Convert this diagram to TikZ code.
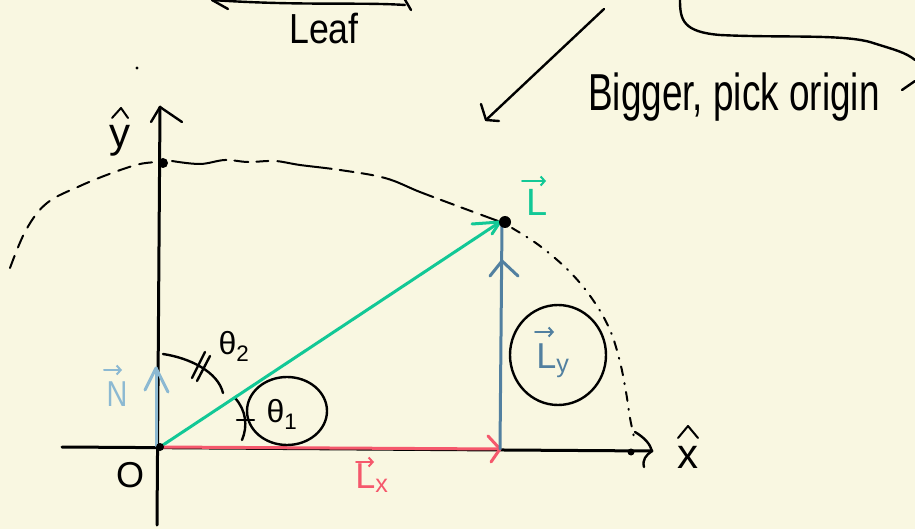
\documentclass[tikz,border=0pt]{standalone}
\usepackage{fontspec}
\setmainfont{Liberation Sans}
\usetikzlibrary{arrows.meta}
\definecolor{bg}{RGB}{249,247,225}
\definecolor{lgreen}{RGB}{18,200,150}
\definecolor{lred}{RGB}{245,88,108}
\definecolor{lblue}{RGB}{82,128,160}
\definecolor{nblue}{RGB}{140,185,210}
\tikzset{
  ink/.style={line width=2.4pt, line cap=round, line join=round},
  thinink/.style={line width=2pt, line cap=round, line join=round},
  axisline/.style={line width=3pt, line cap=round},
  vecline/.style={line width=3pt, line cap=round},
  vecmark/.style={line width=2pt, line cap=round, -{Straight Barb[length=4pt,width=9pt,line width=2pt]}},
  dashpart/.style={line width=2pt, line cap=round, dash pattern=on 13pt off 9pt},
  dotpart/.style={line width=2pt, line cap=round, dash pattern=on 9pt off 8pt on 1pt off 8pt},
  lbl/.style={inner sep=0pt, font=\fontsize{36}{38}\selectfont},
  biglbl/.style={inner sep=0pt, font=\fontsize{42}{44}\selectfont},
  dotmark/.style={circle, fill=black, inner sep=0pt, minimum size=10pt},
}
\begin{document}
\begin{tikzpicture}[x=1pt,y=-1pt]
\useasboundingbox (0,0) rectangle (915,529);
\fill[bg] (0,0) rectangle (915,529);

% key points
\coordinate (O) at (160,447);
\coordinate (Xend) at (652,451);
\coordinate (Xstart) at (62,447);
\coordinate (Ybot) at (157,525);
\coordinate (Ytop) at (160,107);
\coordinate (Ltip) at (500,222);
\coordinate (Lxend) at (500,449);
\coordinate (Nstart) at (156,446);
\coordinate (Ntip) at (156,368);

% top cut-off sketches
\draw[ink] (212,0) .. controls (300,6) and (360,2) .. (405,5);
\draw[ink] (212,0) -- (228,9);
\draw[ink] (404,-2) -- (411,10);
\draw[ink] (680,0) .. controls (680,20) and (683,32) .. (720,35)
  .. controls (780,38) and (840,34) .. (870,42)
  .. controls (895,50) and (905,52) .. (915,60);
\draw[ink] (915,81) -- (902,90);

% arrow to "Bigger, pick origin"
\coordinate (Bfrom) at (604,9);
\coordinate (Bto) at (486,120);
\draw[ink] (Bfrom) -- (Bto);
\draw[ink] (481,104) -- (Bto) -- (499,121);

% texts
\node[biglbl] (leaf) at (324,29) {\scalebox{0.85}[1]{Leaf}};
\node[inner sep=0pt, font=\fontsize{52}{54}\selectfont] (bigger) at (734,97) {\scalebox{0.71}[1]{Bigger, pick origin}};
\coordinate (speck) at (137,68);
\fill (speck) circle (1.6pt);

% dashed path of the tip
\draw[dashpart] plot[smooth, tension=0.6] coordinates {(10,268) (26,230) (47,203) (80,186) (112,173) (140,164) (160,162)};
\draw[line width=2pt, line cap=round, dash pattern=on 55pt off 8pt on 14pt off 8pt on 12pt off 9pt]
  plot[smooth, tension=0.6] coordinates {(172,161) (200,164) (225,160) (248,162) (275,161) (300,165) (340,170) (385,178) (420,192) (460,207) (498,221)};
\draw[dotpart] plot[smooth, tension=0.6] coordinates {(512,228) (540,246) (570,272) (593,300) (610,330) (620,362) (626,392) (630,418) (634,437)};

% axes
\draw[axisline] (Xstart) -- (Xend);
\draw[ink] (635,432) .. controls (645,438) and (650,444) .. (Xend) .. controls (646,455) and (642,460) .. (644,467);
\draw[axisline] (Ybot) -- (Ytop);
\draw[ink] (151,122) -- (Ytop) -- (182,122);
\node[dotmark, minimum size=7pt] (xdot) at (631,452) {};

% angle arcs
\draw[ink] (163,354) .. controls (190,358) and (218,372) .. (223,393);
\draw[ink] (192,378) -- (205,352);
\draw[ink] (197,381) -- (210,356);
\draw[ink] (235,398) .. controls (246,410) and (248,426) .. (242,440);
\draw[ink] (237,420) -- (254,420);

% vectors
\draw[vecline, nblue] (Nstart) -- (Ntip);
\draw[ink, nblue, line width=3pt] (145,390) -- (Ntip) -- (168,392);
\draw[vecline, lgreen] (O) -- (Ltip);
\draw[ink, lgreen, line width=3pt] (472,224) -- (Ltip) -- (492,234);
\draw[vecline, lred] (O) -- (Lxend);
\draw[ink, lred, line width=3pt] (488,436) -- (Lxend) -- (491,462);
\draw[vecline, lblue] (Lxend) -- (502,222);
\draw[ink, lblue, line width=3pt] (490,276) -- (502,261) -- (518,276);

% dots
\node[dotmark] (ydot) at (163,163) {};
\node[dotmark, minimum size=12pt] (Ldot) at (505,222) {};
\node[dotmark, minimum size=8pt] (Odot) at (O) {};

% blobs
\draw[ink] (287,411) ellipse [x radius=40pt, y radius=34pt];
\draw[ink] (558,355) ellipse [x radius=48pt, y radius=50pt];

% labels
\node[lbl] (Olbl) at (130,475) {O};
\node[biglbl, anchor=base] (xhat) at (688,468) {x};
\draw[thinink] (678,438) -- (688,426) -- (698,438);
\node[biglbl, anchor=base] (yhat) at (120,148) {y};
\draw[thinink] (112,118) -- (121,108) -- (128,118);
\node[lbl, text=lgreen, font=\fontsize{38}{40}\selectfont, anchor=base] (Llbl) at (537,216) {L};
\draw[vecmark, lgreen] (522,181) -- (546,181);
\node[lbl, text=lred, anchor=base] (Lxlbl) at (372,488) {L\textsubscript{x}};
\draw[vecmark, lred] (356,462) -- (374,462);
\node[lbl, text=lblue, anchor=base] (Lylbl) at (553,368) {L\textsubscript{y}};
\draw[vecmark, lblue] (535,332) -- (554,332);
\node[lbl, text=nblue, anchor=base] (Nlbl) at (117,406) {\scalebox{0.8}[1]{N}};
\draw[vecmark, nblue] (104,370) -- (122,370);
\node[lbl, font=\fontsize{32}{34}\selectfont] (th1) at (282,414) {θ\textsubscript{1}};
\node[lbl, font=\fontsize{32}{34}\selectfont] (th2) at (234,346) {θ\textsubscript{2}};
\end{tikzpicture}
\end{document}
